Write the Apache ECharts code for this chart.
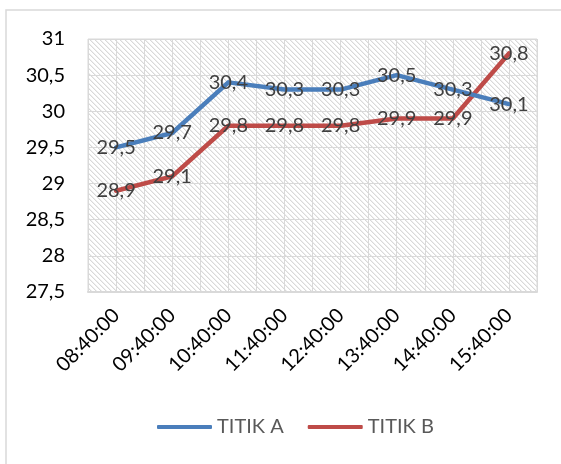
<!DOCTYPE html>
<html><head><meta charset="utf-8">
<script src="https://cdn.jsdelivr.net/npm/echarts@6/dist/echarts.min.js"></script>
<style>html,body{margin:0;padding:0;background:#fff}#c{width:561px;height:464px}</style>
</head><body><div id="c"></div>
<script>
var categories = ['08:40:00','09:40:00','10:40:00','11:40:00','12:40:00','13:40:00','14:40:00','15:40:00'];
var titikA = [29.5, 29.7, 30.4, 30.3, 30.3, 30.5, 30.3, 30.1];
var titikB = [28.9, 29.1, 29.8, 29.8, 29.8, 29.9, 29.9, 30.8];
var seriesNames = ['TITIK A', 'TITIK B'];

function hatch() {
  var c = document.createElement('canvas');
  c.width = 5; c.height = 5;
  var g = c.getContext('2d');
  g.fillStyle = '#ffffff'; g.fillRect(0,0,5,5);
  for (var i = 0; i < 5; i++) {
    g.fillStyle = '#d9d9d9'; g.fillRect(i, i, 1, 1);
    g.fillStyle = '#efefef'; g.fillRect((i+1)%5, i, 1, 1);
  }
  return c;
}
var fmt = function (v) { return String(v).replace('.', ','); };
var chart = echarts.init(document.getElementById('c'));
var lbl = { show: true, position: 'inside', color: '#404040', fontFamily: 'Lato', fontSize: 20, formatter: function (p) { return fmt(p.value); } };
chart.setOption({
  animation: false,
  graphic: [{ type: 'rect', shape: { x: 6, y: 10, width: 600, height: 500 }, style: { fill: 'none', stroke: '#d9d9d9', lineWidth: 1.5 }, z: -10 }],
  grid: { left: 88, right: 24, top: 39, bottom: 172, show: true, backgroundColor: { image: hatch(), repeat: 'repeat' }, borderColor: '#d9d9d9', borderWidth: 1 },
  legend: { bottom: 22, left: 152, itemWidth: 55, itemHeight: 4, itemGap: 24, icon: 'roundRect',
    textStyle: { color: '#595959', fontFamily: 'Lato', fontSize: 20 }, data: seriesNames },
  xAxis: [{
    type: 'category', data: categories, boundaryGap: true,
    axisLine: { show: true, lineStyle: { color: '#d9d9d9', width: 2 } },
    axisTick: { show: false },
    splitLine: { show: false },
    axisLabel: { rotate: 45, color: '#000', fontFamily: 'Lato', fontSize: 20, margin: 20, interval: 0 }
  }, {
    type: 'value', min: 0, max: 16, interval: 1, show: true, position: 'top',
    axisLine: { show: false }, axisTick: { show: false }, axisLabel: { show: false },
    splitLine: { show: true, lineStyle: { color: '#d9d9d9', width: 1 } }
  }],
  yAxis: {
    type: 'value', min: 27.5, max: 31, interval: 0.5,
    axisLine: { show: false }, axisTick: { show: false },
    axisLabel: { color: '#000', fontFamily: 'Lato', fontSize: 20, margin: 23, formatter: fmt },
    splitLine: { lineStyle: { color: '#d9d9d9', width: 1 } }
  },
  series: [
    { name: seriesNames[0], type: 'line', data: titikA, symbol: 'circle', symbolSize: 0, showSymbol: true, lineStyle: { color: '#4a7ebb', width: 4.5, cap: 'round', join: 'round' }, itemStyle: { color: '#4a7ebb' }, label: lbl, z: 3 },
    { name: seriesNames[1], type: 'line', data: titikB, symbol: 'circle', symbolSize: 0, showSymbol: true, lineStyle: { color: '#be4b48', width: 4.5, cap: 'round', join: 'round' }, itemStyle: { color: '#be4b48' }, label: lbl, z: 2 }
  ]
});
</script></body></html>
